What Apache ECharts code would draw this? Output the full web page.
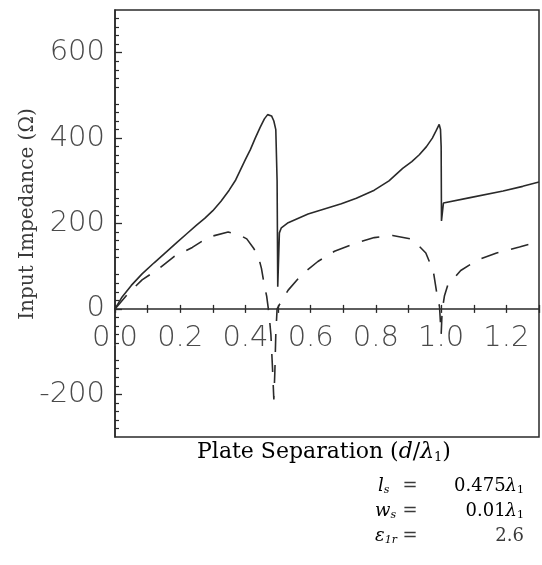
<!DOCTYPE html>
<html>
<head>
<meta charset="utf-8">
<script src="https://cdn.jsdelivr.net/npm/echarts@6/dist/echarts.min.js"></script>
<style>
  html, body { margin: 0; padding: 0; background: #fff; }
  #chart { width: 542px; height: 565px; }
</style>
</head>
<body>
<div id="chart"></div>
<script>
// solid curve (plate separation d/lambda1 -> ohms)
const solidSep = [0, 0.02, 0.05, 0.083, 0.12, 0.155, 0.19, 0.22, 0.25, 0.275, 0.30, 0.325, 0.35, 0.37, 0.385, 0.40, 0.415, 0.43, 0.445, 0.458, 0.468, 0.474, 0.48, 0.487, 0.493, 0.497, 0.499, 0.503, 0.504, 0.51, 0.531, 0.592, 0.694, 0.74, 0.795, 0.84, 0.882, 0.91, 0.933, 0.955, 0.973, 0.985, 0.994, 0.998, 1.0, 1.001, 1.006, 1.007, 1.085, 1.19, 1.25, 1.3];
const solidImp = [0, 26, 55, 82, 108, 132, 156, 176, 196, 212, 230, 252, 278, 302, 326, 350, 373, 400, 425, 445, 455, 457, 452, 440, 420, 300, 52, 52, 178, 190, 202, 222, 246, 259, 278, 300, 329, 345, 361, 380, 400, 418, 432, 420, 380, 206, 206, 248, 260, 276, 287, 297];

// dashed curve
const dashSep = [0, 0.04, 0.083, 0.134, 0.18, 0.237, 0.286, 0.347, 0.38, 0.404, 0.425, 0.439, 0.449, 0.458, 0.465, 0.472, 0.478, 0.483, 0.487, 0.49, 0.493, 0.497, 0.51, 0.531, 0.572, 0.622, 0.673, 0.734, 0.795, 0.851, 0.912, 0.953, 0.976, 0.986, 0.995, 1.0, 1.003, 1.01, 1.02, 1.06, 1.11, 1.17, 1.24, 1.3];
const dashImp = [0, 36, 68, 94, 122, 144, 168, 180, 174, 164, 142, 124, 95, 55, 30, -10, -60, -140, -212, -150, -60, 0, 18, 44, 80, 111, 135, 153, 167, 172, 163, 131, 88, 40, 5, -60, -5, 30, 55, 90, 114, 131, 145, 158];

const xLabels = [0, 0.2, 0.4, 0.6, 0.8, 1.0, 1.2];
const yLabels = [-200, 0, 200, 400, 600];

const pairs = (xs, ys) => xs.map((x, i) => [x, ys[i]]);

const chart = echarts.init(document.getElementById('chart'));

const ink = '#2a2a2a';
const gridTop = 10;
const gridHeight = 427;
const yMin = -300;
const yMax = 700;
// shift the x axis up from the grid bottom to the zero line
const zeroOffset = -gridHeight * (0 - yMin) / (yMax - yMin);

const labelFont = {
  fontFamily: 'DejaVu Sans',
  fontWeight: 200,
  fontSize: 29,
  color: '#4a4a4a',
};

const serif = 'DejaVu Serif';
const txt = '#3a3a3a';

const paramRich = {
  a: { fontFamily: serif, fontSize: 18, color: txt },
  i: { fontFamily: serif, fontStyle: 'italic', fontSize: 18, color: txt },
  s: { fontFamily: serif, fontSize: 11, color: txt, padding: [9, 0, 0, 0] },
  si: { fontFamily: serif, fontStyle: 'italic', fontSize: 11, color: txt, padding: [9, 0, 0, 0] },
};

const option = {
  animation: false,
  backgroundColor: '#fff',
  grid: {
    left: 115,
    top: gridTop,
    width: 424,
    height: gridHeight,
    show: true,
    borderColor: ink,
    borderWidth: 1.5,
    outerBoundsMode: 'none',
  },
  xAxis: [
    {
      type: 'value',
      position: 'bottom',
      offset: zeroOffset,
      min: 0,
      max: 1.3,
      interval: 0.1,
      axisLine: { onZero: false, lineStyle: { color: ink, width: 1.5 } },
      axisTick: { inside: false, length: 4, lineStyle: { color: ink, width: 1.3 } },
      axisLabel: Object.assign({
        margin: 15,
        customValues: xLabels,
        formatter: (v) => v.toFixed(1),
      }, labelFont),
      splitLine: { show: false },
    },
    {
      type: 'value',
      position: 'bottom',
      offset: zeroOffset,
      min: 0,
      max: 1.3,
      interval: 0.1,
      axisLine: { show: false, onZero: false },
      axisTick: { inside: true, length: 4, lineStyle: { color: ink, width: 1.3 } },
      axisLabel: { show: false },
      splitLine: { show: false },
    },
  ],
  yAxis: {
    type: 'value',
    position: 'left',
    min: yMin,
    max: yMax,
    interval: 100,
    axisLine: { show: true, onZero: false, lineStyle: { color: ink, width: 1.5 } },
    axisTick: { inside: true, length: 7, customValues: yLabels, lineStyle: { color: ink, width: 1.3 } },
    minorTick: { show: true, splitNumber: 5, length: 4, lineStyle: { color: ink, width: 1.2 } },
    axisLabel: Object.assign({
      margin: 10,
      customValues: yLabels,
      formatter: (v) => String(v),
    }, labelFont),
    splitLine: { show: false },
    minorSplitLine: { show: false },
  },
  series: [
    {
      type: 'line',
      data: pairs(solidSep, solidImp),
      showSymbol: false,
      lineStyle: { color: ink, width: 1.6 },
    },
    {
      type: 'line',
      data: pairs(dashSep, dashImp),
      showSymbol: false,
      lineStyle: { color: ink, width: 1.6, type: [18, 13] },
    },
  ],
  graphic: [
    {
      type: 'text',
      x: 28,
      y: 214,
      rotation: Math.PI / 2,
      style: {
        text: 'Input Impedance (Ω)',
        font: '20px "DejaVu Serif"',
        fill: txt,
        align: 'center',
        verticalAlign: 'middle',
      },
    },
    {
      type: 'text',
      x: 324,
      y: 452,
      style: {
        text: '{a|Plate Separation (}{i|d}{a|/}{i|λ}{s|1}{a|)}',
        align: 'center',
        verticalAlign: 'middle',
        rich: {
          a: { fontFamily: serif, fontSize: 22, color: txt },
          i: { fontFamily: serif, fontStyle: 'italic', fontSize: 22, color: txt },
          s: { fontFamily: serif, fontSize: 13, color: txt, padding: [11, 0, 0, 0] },
        },
      },
    },
    // parameter table
    { type: 'text', x: 378, y: 486, style: { text: '{i|l}{si|s}', align: 'left', verticalAlign: 'middle', rich: paramRich } },
    { type: 'text', x: 375, y: 511, style: { text: '{i|w}{si|s}', align: 'left', verticalAlign: 'middle', rich: paramRich } },
    { type: 'text', x: 375, y: 536, style: { text: '{i|ε}{si|1r}', align: 'left', verticalAlign: 'middle', rich: paramRich } },
    { type: 'text', x: 410, y: 486, style: { text: '=', font: '18px "DejaVu Serif"', fill: txt, align: 'center', verticalAlign: 'middle' } },
    { type: 'text', x: 410, y: 511, style: { text: '=', font: '18px "DejaVu Serif"', fill: txt, align: 'center', verticalAlign: 'middle' } },
    { type: 'text', x: 410, y: 536, style: { text: '=', font: '18px "DejaVu Serif"', fill: txt, align: 'center', verticalAlign: 'middle' } },
    { type: 'text', x: 524, y: 486, style: { text: '{a|0.475}{i|λ}{s|1}', align: 'right', verticalAlign: 'middle', rich: paramRich } },
    { type: 'text', x: 524, y: 511, style: { text: '{a|0.01}{i|λ}{s|1}', align: 'right', verticalAlign: 'middle', rich: paramRich } },
    { type: 'text', x: 524, y: 536, style: { text: '2.6', font: '18px "DejaVu Serif"', fill: txt, align: 'right', verticalAlign: 'middle' } },
  ],
};

chart.setOption(option);
</script>
</body>
</html>
